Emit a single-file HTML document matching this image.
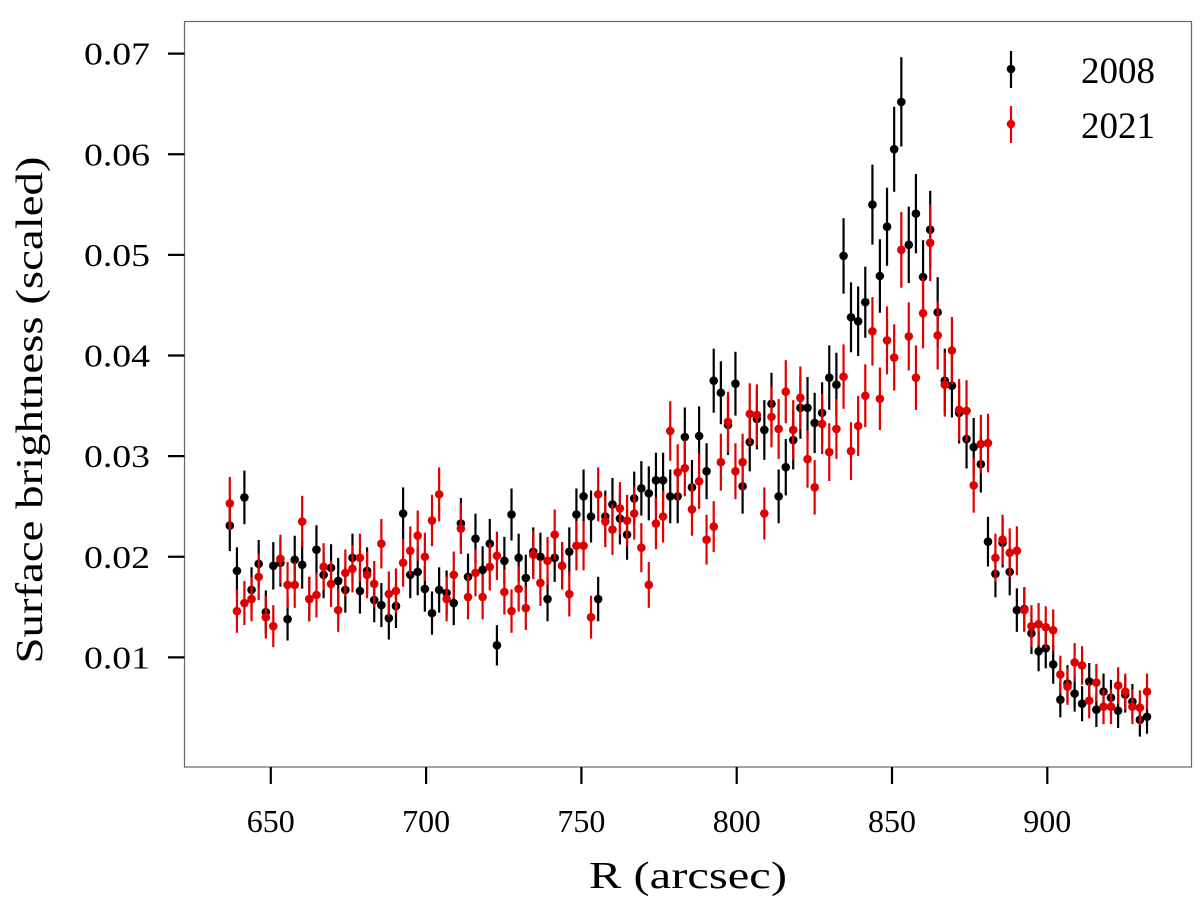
<!DOCTYPE html>
<html><head><meta charset="utf-8"><style>
html,body{margin:0;padding:0;background:#fff;}
svg{display:block;font-family:"Liberation Serif","Times New Roman",serif;}
</style></head><body>
<svg id="chart" width="1200" height="904" viewBox="0 0 1200 904" xmlns="http://www.w3.org/2000/svg">
<rect x="0" y="0" width="1200" height="904" fill="#fff"/>
<g id="marks"></g>
<rect x="184.5" y="21.5" width="1007" height="745.5" fill="none" stroke="#666" stroke-width="1.2"/>
<g id="xticks"></g>
<g id="yticks"></g>
<text x="688" y="888" font-size="38" text-anchor="middle" textLength="198" lengthAdjust="spacingAndGlyphs">R (arcsec)</text>
<text transform="translate(42,410) rotate(-90)" font-size="38" text-anchor="middle" textLength="507" lengthAdjust="spacingAndGlyphs">Surface brightness (scaled)</text>
<g>
<g>
<line x1="1011" y1="51" x2="1011" y2="88" stroke="#000" stroke-width="2.2"/>
<circle cx="1011" cy="69" r="4.3" fill="#000"/>
<text x="1081" y="83" font-size="37">2008</text>
</g>
<g>
<line x1="1011" y1="106" x2="1011" y2="143" stroke="#e00" stroke-width="2.2"/>
<circle cx="1011" cy="124" r="4.3" fill="#e00"/>
<text x="1081" y="138" font-size="37">2021</text>
</g>
</g>
</svg>
<script>
const radius = [636.8,639.1,641.5,643.8,646.1,648.4,650.8,653.1,655.4,657.7,660.1,662.4,664.7,667.0,669.4,671.7,674.0,676.3,678.7,681.0,683.3,685.6,688.0,690.3,692.6,694.9,697.3,699.6,701.9,704.2,706.6,708.9,711.2,713.5,715.9,718.2,720.5,722.8,725.2,727.5,729.8,732.1,734.5,736.8,739.1,741.4,743.8,746.1,748.4,750.7,753.1,755.4,757.7,760.0,762.4,764.7,767.0,769.3,771.7,774.0,776.3,778.6,781.0,783.3,785.6,787.9,790.3,792.6,794.9,797.2,799.6,801.9,804.2,806.5,808.9,811.2,813.5,815.8,818.2,820.5,822.8,825.1,827.5,829.8,832.1,834.4,836.8,839.1,841.4,843.7,846.1,848.4,850.7,853.0,855.4,857.7,860.0,862.3,864.7,867.0,869.3,871.6,874.0,876.3,878.6,880.9,883.3,885.6,887.9,890.2,892.6,894.9,897.2,899.5,901.9,904.2,906.5,908.8,911.2,913.5,915.8,918.1,920.5,922.8,925.1,927.4,929.8,932.1];
const sb2008 = [0.0231,0.0186,0.0259,0.0167,0.0193,0.0145,0.0191,0.0194,0.0138,0.0197,0.0192,0.0158,0.0207,0.0182,0.0189,0.0176,0.0167,0.0199,0.0166,0.0186,0.0157,0.0152,0.0139,0.0151,0.0243,0.0182,0.0185,0.0168,0.0144,0.0167,0.0164,0.0154,0.0233,0.0180,0.0218,0.0187,0.0213,0.0112,0.0196,0.0242,0.0199,0.0179,0.0205,0.0200,0.0158,0.0199,
0.0191,0.0205,0.0242,0.0260,0.0240,0.0158,0.0240,0.0252,0.0238,0.0222,0.0258,0.0268,0.0263,0.0276,0.0276,0.0260,0.0260,0.0319,0.0269,0.0320,0.0285,0.0375,0.0363,0.0331,0.0372,0.0270,0.0314,0.0337,0.0326,0.0352,0.0260,0.0289,0.0316,0.0348,0.0348,0.0333,
0.0343,0.0378,0.0371,0.0499,0.0438,0.0434,0.0453,0.0550,0.0479,0.0528,0.0605,0.0652,0.0510,0.0541,0.0478,0.0525,0.0443,0.0375,0.0370,0.0343,0.0317,0.0309,0.0292,
0.0215,0.0183,0.0214,0.0185,0.0147,0.0148,0.0124,0.0106,0.0109,0.0093,0.0058,0.0074,0.0064,0.0054,0.0076,0.0048,0.0066,0.0060,0.0047,0.0063,0.0056,0.0038,0.0041];
const sb2021 = [0.0253,0.0146,0.0154,0.0158,0.0180,0.0140,0.0131,0.0198,0.0172,0.0172,0.0235,0.0158,0.0162,0.0190,0.0173,0.0147,0.0184,0.0188,0.0199,0.0182,0.0173,0.0213,0.0163,0.0166,0.0194,0.0206,0.0221,0.0200,0.0236,0.0262,0.0158,0.0182,0.0228,0.0160,0.0184,0.0160,0.0190,0.0201,0.0165,0.0146,0.0168,0.0149,0.0202,0.0174,0.0196,0.0222,
0.0191,0.0163,0.0211,0.0211,0.0140,0.0262,0.0235,0.0227,0.0248,0.0236,0.0243,0.0209,0.0172,0.0233,0.0240,0.0325,0.0284,0.0288,0.0247,0.0275,0.0217,0.0230,0.0294,0.0334,0.0285,0.0294,0.0342,0.0341,0.0243,0.0339,0.0327,0.0364,0.0326,0.0358,0.0297,0.0269,
0.0332,0.0304,0.0327,0.0379,0.0305,0.0330,0.0360,0.0424,0.0357,0.0415,0.0398,0.0505,0.0419,0.0378,0.0442,0.0512,0.0420,0.0371,0.0405,0.0346,0.0345,0.0271,0.0312,
0.0313,0.0199,0.0217,0.0204,0.0206,0.0147,0.0131,0.0133,0.0130,0.0127,0.0083,0.0071,0.0095,0.0092,0.0057,0.0075,0.0051,0.0051,0.0072,0.0066,0.0051,0.0050,0.0066];
const xTickValues = [650,700,750,800,850,900];
const yTickValues = [0.01,0.02,0.03,0.04,0.05,0.06,0.07];
const yTickLabels = ["0.01","0.02","0.03","0.04","0.05","0.06","0.07"];

const NS = "http://www.w3.org/2000/svg";
function xScale(v){ return 270.8 + (v - 650) * 3.106; }
function yScale(v){ return 657.4 - (v - 0.01) * 10063; }
function errOf(v){ return 0.0015 + 0.045 * v; }

const marks = document.getElementById('marks');
function drawSeries(vals, color, name){
  const g = document.createElementNS(NS, 'g');
  
  
  for (let i = 0; i < vals.length; i++){
    const x = xScale(radius[i]), y = yScale(vals[i]), e = errOf(vals[i]);
    const ln = document.createElementNS(NS, 'line');
    
    
    ln.setAttribute('x1', x); ln.setAttribute('x2', x);
    ln.setAttribute('y1', yScale(vals[i] + e)); ln.setAttribute('y2', yScale(vals[i] - e));
    ln.setAttribute('stroke', color); ln.setAttribute('stroke-width', '2.2');
    g.appendChild(ln);
    const c = document.createElementNS(NS, 'circle');
    
    
    c.setAttribute('cx', x); c.setAttribute('cy', y); c.setAttribute('r', '4.3');
    c.setAttribute('fill', color);
    g.appendChild(c);
  }
  marks.appendChild(g);
}
drawSeries(sb2008, '#000', 'series-2008');
drawSeries(sb2021, '#e00000', 'series-2021');

const xt = document.getElementById('xticks');
xTickValues.forEach(v => {
  const x = xScale(v);
  const t = document.createElementNS(NS, 'line');
  
  
  t.setAttribute('x1', x); t.setAttribute('x2', x); t.setAttribute('y1', 767); t.setAttribute('y2', 784);
  t.setAttribute('stroke', '#000'); t.setAttribute('stroke-width', '2.2');
  xt.appendChild(t);
  const tx = document.createElementNS(NS, 'text');
  
  
  tx.setAttribute('x', x); tx.setAttribute('y', 832);
  tx.setAttribute('font-size', '32'); tx.setAttribute('text-anchor', 'middle');
  tx.textContent = String(v);
  xt.appendChild(tx);
});
const yt = document.getElementById('yticks');
yTickValues.forEach((v, i) => {
  const y = yScale(v);
  const t = document.createElementNS(NS, 'line');
  
  
  t.setAttribute('x1', 168); t.setAttribute('x2', 184.5); t.setAttribute('y1', y); t.setAttribute('y2', y);
  t.setAttribute('stroke', '#000'); t.setAttribute('stroke-width', '2.2');
  yt.appendChild(t);
  const tx = document.createElementNS(NS, 'text');
  
  
  tx.setAttribute('x', 150); tx.setAttribute('y', y + 11);
  tx.setAttribute('font-size', '32'); tx.setAttribute('text-anchor', 'end');
  tx.setAttribute('textLength', '66'); tx.setAttribute('lengthAdjust', 'spacingAndGlyphs');
  tx.textContent = yTickLabels[i];
  yt.appendChild(tx);
});
</script>
</body></html>
